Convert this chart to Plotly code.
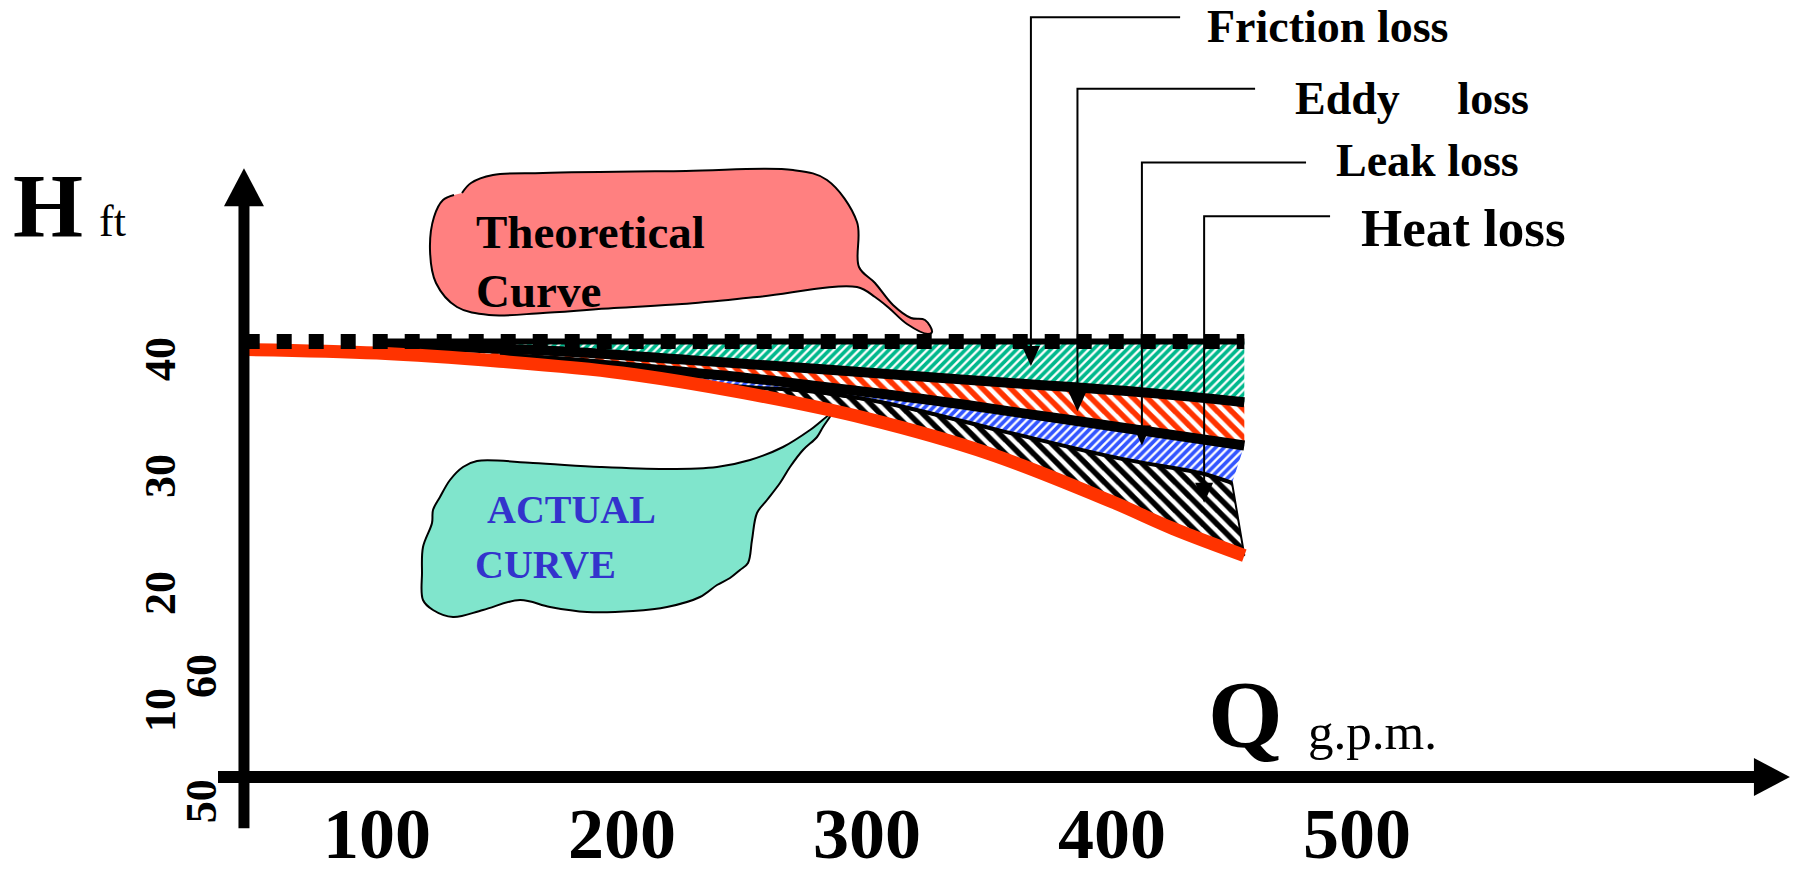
import plotly.graph_objects as go

# ---------------- pump characteristic data ----------------
# discharge Q in g.p.m., head H in ft
Q_THEORETICAL = [46, 454]
H_THEORETICAL = [41.5, 41.5]

Q_ACTUAL = [47, 100, 150, 200, 250, 300, 350, 400, 425, 454]
H_ACTUAL = [40.8, 40.5, 39.8, 38.8, 37.1, 34.9, 31.9, 27.8, 25.5, 23.2]

# head left after subtracting each loss in turn
Q_AFTER_FRICTION = [99, 134, 180, 228, 276, 322, 362, 415, 454]
H_AFTER_FRICTION = [41.2, 41.0, 40.6, 39.9, 39.2, 38.5, 37.9, 37.1, 36.3]

Q_AFTER_EDDY = [150, 181, 211, 250, 275, 322, 369, 415, 454]
H_AFTER_EDDY = [40.1, 39.7, 39.15, 38.4, 37.8, 36.6, 35.2, 33.8, 32.6]

Q_AFTER_LEAK = [211, 250, 274, 306, 354, 403, 436, 449]
H_AFTER_LEAK = [38.5, 37.6, 37.3, 36.3, 33.9, 31.5, 30.25, 29.4]

Q_TICKS = [100, 200, 300, 400, 500]
H_TICKS = [40, 30, 20, 10]
EFF_TICKS = [60, 50]

LOSS_NAMES = ["Friction loss", "Eddy\u00a0\u00a0\u00a0\u00a0\u00a0loss", "Leak loss", "Heat loss"]

# ---------------- canvas / scale ----------------
W, H = 1803, 874
PX_PER_GPM = 2.45
PX_PER_FT = 11.7
GPM_AT_LEFT = -53.88
FT_AT_TOP = 70.68
X_RANGE = [GPM_AT_LEFT, GPM_AT_LEFT + W / PX_PER_GPM]
Y_RANGE = [FT_AT_TOP - H / PX_PER_FT, FT_AT_TOP]


def canvas(px, py):
    """canvas pixel -> (Q, H) in axis units"""
    return GPM_AT_LEFT + px / PX_PER_GPM, FT_AT_TOP - py / PX_PER_FT


def dq(px):
    return px / PX_PER_GPM


def dh(px):
    return px / PX_PER_FT


SERIF = "Liberation Serif, Times New Roman, serif"
BLACK = "#000000"
RED = "#FF3300"
GREEN = "#00B88C"
BLUE = "#3355FF"
PINK = "#FF8080"
TEAL = "#80E5CC"
TEXT_BLUE = "#3333CC"

# diagram axis (arrow) placement, in axis units
AXIS_Q = 45.7
AXIS_H = 4.27
AXIS_H_BOTTOM = -0.1
AXIS_H_TIP = 56.3
AXIS_Q_LEFT = 35.1
AXIS_Q_TIP = 676.7

# leader lines: (vertical Q, top H, right end Q, arrow tip H, label Q, label H, font size)
LEADERS = [
    (366.9, 69.2, 427.8, 39.4, 438.0, 68.4, 46),
    (385.9, 63.1, 458.4, 35.5, 474.0, 62.3, 46),
    (412.2, 56.8, 479.2, 32.6, 490.6, 57.0, 46),
    (437.6, 52.2, 489.0, 27.7, 501.0, 51.2, 53),
]

# callout outlines (canvas pixels)
THEO_BALLOON = [(462, 193), (471, 183), (493, 175), (543, 173), (686, 171), (793, 170),
                (827, 180), (857, 222), (859, 267), (875, 283), (893, 305), (911, 318),
                (925, 320), (932, 332), (928, 334), (907, 324), (889, 308), (875, 297),
                (857, 287), (757, 297), (682, 304), (614, 308), (543, 313), (489, 315),
                (457, 307), (436, 283), (430, 250), (434, 217), (443, 200), (454, 195)]
ACT_BALLOON = [(832, 413), (810, 430), (783, 447), (750, 460), (717, 467), (667, 469),
               (600, 467), (533, 463), (477, 461), (463, 467), (450, 480), (440, 497),
               (433, 510), (432, 523), (423, 547), (422, 573), (423, 600), (433, 610),
               (453, 617), (483, 610), (520, 600), (550, 607), (587, 612), (633, 611),
               (667, 607), (700, 597), (717, 585), (730, 578), (740, 570), (748, 563),
               (752, 540), (757, 513), (767, 500), (780, 483), (790, 467), (803, 450),
               (817, 437), (823, 427), (832, 413)]

fig = go.Figure()


def add(trace):
    fig.add_trace(trace)


def band(q_up, h_up, q_lo, h_lo):
    return list(q_up) + list(q_lo)[::-1], list(h_up) + list(h_lo)[::-1]


def hatch(xs, ys, shape, color, size, solidity, outline=0):
    add(go.Scatter(x=xs, y=ys, mode="lines", fill="toself", fillcolor="rgba(0,0,0,0)",
                   line=dict(color=BLACK, width=outline),
                   fillpattern=dict(shape=shape, fgcolor=color, fgopacity=1, bgcolor="white",
                                    size=size, solidity=solidity),
                   hoverinfo="skip"))


def balloon(points, color):
    pts = [canvas(px, py) for px, py in points]
    add(go.Scatter(x=[p[0] for p in pts], y=[p[1] for p in pts], mode="lines",
                   fill="toself", fillcolor=color, line=dict(color=BLACK, width=2, shape="spline"),
                   hoverinfo="skip"))


# callouts
balloon(THEO_BALLOON, PINK)
balloon(ACT_BALLOON, TEAL)

# loss regions
fx, fy = band([Q_AFTER_FRICTION[0], Q_THEORETICAL[-1]], H_THEORETICAL,
              Q_AFTER_FRICTION, H_AFTER_FRICTION)
hatch(fx, fy, "/", GREEN, 6, 0.62)

ex, ey = band(Q_AFTER_FRICTION[1:], H_AFTER_FRICTION[1:], Q_AFTER_EDDY, H_AFTER_EDDY)
hatch(ex, ey, "\\", RED, 10, 0.55)

lx, ly = band(Q_AFTER_EDDY[3:], H_AFTER_EDDY[3:], Q_AFTER_LEAK, H_AFTER_LEAK)
hatch(lx, ly, "/", BLUE, 6, 0.62)

heat_q = [q for q in Q_ACTUAL if q >= Q_AFTER_LEAK[0]]
heat_h = H_ACTUAL[len(Q_ACTUAL) - len(heat_q):]
hx, hy = band(Q_AFTER_LEAK, H_AFTER_LEAK, heat_q, heat_h)
hatch(hx, hy, "\\", BLACK, 10, 0.55, outline=2)

# loss boundary lines
add(go.Scatter(x=Q_AFTER_LEAK, y=H_AFTER_LEAK, mode="lines",
               line=dict(color=BLACK, width=4, shape="spline"), hoverinfo="skip"))
add(go.Scatter(x=Q_AFTER_EDDY, y=H_AFTER_EDDY, mode="lines",
               line=dict(color=BLACK, width=10, shape="spline"), hoverinfo="skip"))
add(go.Scatter(x=Q_AFTER_FRICTION, y=H_AFTER_FRICTION, mode="lines",
               line=dict(color=BLACK, width=10, shape="spline"), hoverinfo="skip"))
add(go.Scatter(x=[Q_AFTER_FRICTION[0], Q_THEORETICAL[-1]], y=H_THEORETICAL, mode="lines",
               line=dict(color=BLACK, width=6), hoverinfo="skip"))

# actual curve
add(go.Scatter(x=Q_ACTUAL, y=H_ACTUAL, mode="lines",
               line=dict(color=RED, width=13, shape="spline"), hoverinfo="skip"))

# theoretical curve
add(go.Scatter(x=Q_THEORETICAL, y=H_THEORETICAL, mode="lines",
               line=dict(color=BLACK, width=15, dash="15px,17px"), hoverinfo="skip"))

# diagram axes with arrow heads
add(go.Scatter(x=[AXIS_Q, AXIS_Q], y=[AXIS_H_BOTTOM, AXIS_H_TIP - dh(30)], mode="lines",
               line=dict(color=BLACK, width=11), hoverinfo="skip"))
add(go.Scatter(x=[AXIS_Q_LEFT, AXIS_Q_TIP - dq(30)], y=[AXIS_H, AXIS_H], mode="lines",
               line=dict(color=BLACK, width=12), hoverinfo="skip"))
add(go.Scatter(x=[AXIS_Q - dq(20), AXIS_Q + dq(20), AXIS_Q, AXIS_Q - dq(20)],
               y=[AXIS_H_TIP - dh(38), AXIS_H_TIP - dh(38), AXIS_H_TIP, AXIS_H_TIP - dh(38)],
               mode="lines", fill="toself", fillcolor=BLACK, line=dict(width=0), hoverinfo="skip"))
add(go.Scatter(x=[AXIS_Q_TIP - dq(36), AXIS_Q_TIP - dq(36), AXIS_Q_TIP, AXIS_Q_TIP - dq(36)],
               y=[AXIS_H - dh(19), AXIS_H + dh(19), AXIS_H, AXIS_H - dh(19)],
               mode="lines", fill="toself", fillcolor=BLACK, line=dict(width=0), hoverinfo="skip"))

annotations = []


def text(s, q, h, size, bold=True, color=BLACK, xanchor="left", angle=0):
    annotations.append(dict(x=q, y=h, xref="x", yref="y", text=s, showarrow=False,
                            xanchor=xanchor, yanchor="middle", textangle=angle,
                            font=dict(family=SERIF, size=size, color=color,
                                      weight="bold" if bold else "normal")))


# loss leaders and labels
for name, (qv, htop, qend, htip, qlab, hlab, fsize) in zip(LOSS_NAMES, LEADERS):
    add(go.Scatter(x=[qend, qv, qv], y=[htop, htop, htip + dh(16)], mode="lines",
                   line=dict(color=BLACK, width=2), hoverinfo="skip"))
    add(go.Scatter(x=[qv - dq(9), qv + dq(9), qv, qv - dq(9)],
                   y=[htip + dh(20), htip + dh(20), htip, htip + dh(20)],
                   mode="lines", fill="toself", fillcolor=BLACK, line=dict(width=0),
                   hoverinfo="skip"))
    text(name, qlab, hlab, fsize)

# callout texts
text("Theoretical", *canvas(474, 232), 47)
text("Curve", *canvas(474, 291), 47)
text("ACTUAL", *canvas(485, 509), 40, color=TEXT_BLUE)
text("CURVE", *canvas(473, 564), 40, color=TEXT_BLUE)

# axis titles
text("H", *canvas(11, 206), 90)
text("ft", *canvas(97, 221), 44, bold=False)
text("Q", *canvas(1206, 714), 96)
text("g.p.m.", *canvas(1306, 732), 51, bold=False)

# tick labels
for v in Q_TICKS:
    text(str(v), v, canvas(0, 834)[1], 72, xanchor="center")
TICK_H_Q = canvas(161, 0)[0]
for v in H_TICKS:
    text(str(v), TICK_H_Q, v, 44, xanchor="center", angle=-90)
EFF_Q = canvas(201, 0)[0]
for v in EFF_TICKS:
    text(str(v), EFF_Q, 2.2 + (v - 50) * 1.07, 44, xanchor="center", angle=-90)

fig.update_layout(
    width=W, height=H, margin=dict(l=0, r=0, t=0, b=0),
    paper_bgcolor="white", plot_bgcolor="white", showlegend=False,
    xaxis=dict(range=X_RANGE, visible=False, fixedrange=True),
    yaxis=dict(range=Y_RANGE, visible=False, fixedrange=True),
    annotations=annotations,
)

fig.write_html("out.html")
